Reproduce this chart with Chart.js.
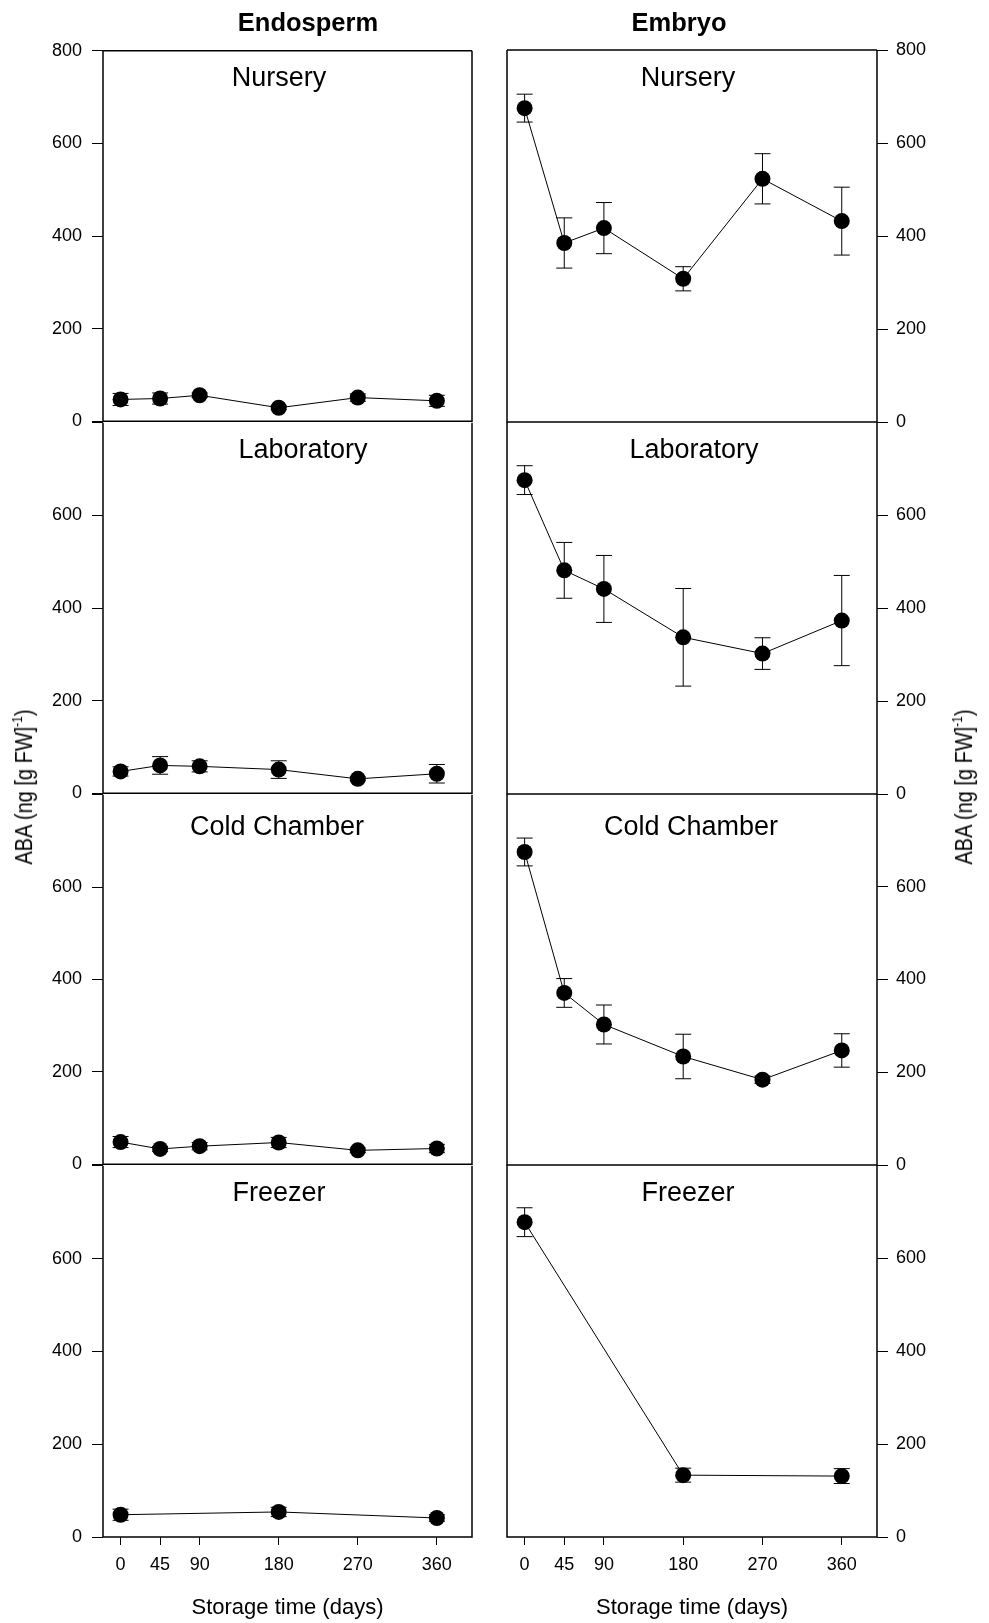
<!DOCTYPE html>
<html>
<head>
<meta charset="utf-8">
<title>ABA content during storage</title>
<script src="https://cdn.jsdelivr.net/npm/chart.js@4.4.1/dist/chart.umd.min.js"></script>
<style>
  body { margin: 0; background: #fff; font-family: 'Liberation Sans', Arial, sans-serif; }
  #fig { position: relative; width: 989px; height: 1623px; overflow: hidden; background: #fff; }
  #fig canvas { position: absolute; }
  .lbl { position: absolute; white-space: nowrap; line-height: 1; color: #000; transform: translate(-50%, -50%); }
  .col-title { font-size: 25.5px; font-weight: bold; }
  .panel-title { font-size: 27px; }
  .y-title { font-size: 20px; transform: translate(-50%, -50%) rotate(-90deg) scaleY(1.15); }
  .y-title sup { font-size: 0.6em; vertical-align: 0.75em; line-height: 0; }
</style>
</head>
<body>
<div id="fig"></div>
<script>
// ---- data ----
const storageDays = [0, 45, 90, 180, 270, 360];
const freezerDays = [0, 180, 360];
const xTickValues = [0, 45, 90, 180, 270, 360];
const yTickValues = [0, 200, 400, 600, 800];

// Endosperm (ng ABA per g FW)
const endoNursery = [47, 49, 56, 29, 51, 44];
const endoNurseryErr = [13, 12, 5, 4, 8, 12];
const endoLab = [47, 60, 58, 51, 31, 42];
const endoLabErr = [10, 19, 12, 19, 4, 20];
const endoCold = [48, 33, 39, 47, 30, 34];
const endoColdErr = [12, 5, 8, 11, 5, 9];
const endoFreezer = [48, 54, 41];
const endoFreezerErr = [12, 10, 7];

// Embryo
const embNursery = [675, 385, 417, 308, 523, 432];
const embNurseryErr = [30, 54, 55, 26, 54, 73];
const embLab = [675, 481, 441, 337, 302, 373];
const embLabErr = [31, 60, 72, 105, 34, 97];
const embCold = [675, 371, 303, 234, 184, 247];
const embColdErr = [30, 31, 42, 48, 8, 36];
const embFreezer = [677, 133, 131];
const embFreezerErr = [31, 15, 16];

const columnTitles = ['Endosperm', 'Embryo'];
const panelTitles = ['Nursery', 'Laboratory', 'Cold Chamber', 'Freezer'];
const xTitle = 'Storage time (days)';

// ---- layout ----
const FONT = "'Liberation Sans', Arial, sans-serif";
const rowEdges = [50, 422, 794, 1165, 1537];
const FIG_H = 1623;
const CAP = 8; // half width of error bar caps

const columns = [
  { left: 0, width: 490, padLeft: 0, padRight: 18, axisWidth: 103, side: 'left', tickPad: 10,
    titleX: 308, yTitleX: 24,
    panelTitleX: [279, 303, 277, 279] },
  { left: 490, width: 499, padLeft: 17, padRight: 0, axisWidth: 112, side: 'right', tickPad: 8,
    titleX: 679, yTitleX: 964,
    panelTitleX: [688, 694, 691, 688] }
];
const panelTitleY = [77, 449, 826, 1192];

const panels = [
  [
    { days: storageDays, values: endoNursery, errors: endoNurseryErr },
    { days: storageDays, values: endoLab, errors: endoLabErr },
    { days: storageDays, values: endoCold, errors: endoColdErr },
    { days: freezerDays, values: endoFreezer, errors: endoFreezerErr }
  ],
  [
    { days: storageDays, values: embNursery, errors: embNurseryErr },
    { days: storageDays, values: embLab, errors: embLabErr },
    { days: storageDays, values: embCold, errors: embColdErr },
    { days: freezerDays, values: embFreezer, errors: embFreezerErr }
  ]
];

Chart.defaults.font.family = FONT;
Chart.defaults.color = '#000';

const fig = document.getElementById('fig');

// error bars drawn under the markers, using the chart scales
const errorBars = {
  id: 'errorBars',
  beforeDatasetsDraw(chart) {
    const { ctx, scales } = chart;
    const ds = chart.data.datasets[0];
    ctx.save();
    ctx.strokeStyle = '#000';
    ctx.lineWidth = 1;
    ds.data.forEach((pt, i) => {
      const e = ds.errors[i];
      const px = scales.x.getPixelForValue(pt.x);
      const top = scales.y.getPixelForValue(pt.y + e);
      const bot = scales.y.getPixelForValue(pt.y - e);
      ctx.beginPath();
      ctx.moveTo(px, top); ctx.lineTo(px, bot);
      ctx.moveTo(px - CAP, top); ctx.lineTo(px + CAP, top);
      ctx.moveTo(px - CAP, bot); ctx.lineTo(px + CAP, bot);
      ctx.stroke();
    });
    ctx.restore();
  }
};

// box around the plot area; lower rows skip the top edge (shared with the row above)
const frame = {
  id: 'frame',
  afterDraw(chart, args, opts) {
    const { ctx, chartArea: a } = chart;
    ctx.save();
    ctx.strokeStyle = '#000';
    ctx.lineWidth = 1.5;
    ctx.beginPath();
    if (opts.top) {
      ctx.moveTo(a.left, a.top); ctx.lineTo(a.right, a.top);
    }
    ctx.moveTo(a.right, a.top); ctx.lineTo(a.right, a.bottom);
    ctx.lineTo(a.left, a.bottom);
    ctx.lineTo(a.left, a.top);
    ctx.stroke();
    ctx.restore();
  }
};

function addLabel(html, cls, x, y) {
  const div = document.createElement('div');
  div.className = 'lbl ' + cls;
  div.innerHTML = html;
  div.style.left = x + 'px';
  div.style.top = y + 'px';
  fig.appendChild(div);
}

function makePanel(col, row) {
  const c = columns[col];
  const p = panels[col][row];
  const isBottom = row === panelTitles.length - 1;

  const top = rowEdges[row] - 20;
  const height = isBottom ? FIG_H - top : (rowEdges[row + 1] - rowEdges[row]) + 40;

  const canvas = document.createElement('canvas');
  canvas.width = c.width;
  canvas.height = height;
  canvas.style.left = c.left + 'px';
  canvas.style.top = top + 'px';
  canvas.style.width = c.width + 'px';
  canvas.style.height = height + 'px';
  fig.appendChild(canvas);

  const gridOpts = (len) => ({
    drawOnChartArea: false,
    drawTicks: true,
    tickLength: len,
    color: '#000',
    tickColor: '#000',
    lineWidth: 1
  });

  new Chart(canvas.getContext('2d'), {
    type: 'line',
    data: {
      datasets: [{
        data: p.days.map((d, i) => ({ x: d, y: p.values[i] })),
        errors: p.errors,
        borderColor: '#000',
        borderWidth: 1,
        backgroundColor: '#000',
        pointRadius: 8,
        pointHoverRadius: 8,
        pointBackgroundColor: '#000',
        pointBorderColor: '#000',
        pointBorderWidth: 0,
        tension: 0,
        fill: false
      }]
    },
    options: {
      responsive: false,
      animation: false,
      events: [],
      layout: {
        padding: { top: 20, bottom: isBottom ? 0 : 20, left: c.padLeft, right: c.padRight }
      },
      plugins: {
        legend: { display: false },
        tooltip: { enabled: false },
        frame: { top: row === 0 }
      },
      scales: {
        x: {
          type: 'linear',
          min: -20,
          max: 400,
          display: isBottom,
          afterBuildTicks: (s) => { s.ticks = xTickValues.map(v => ({ value: v })); },
          // only the bottom row carries the x axis
          afterFit: (s) => { s.height = isBottom ? 86 : 0; },
          grid: gridOpts(8),
          border: { display: false },
          ticks: {
            color: '#000',
            font: { size: 18 },
            padding: 9,
            maxRotation: 0,
            autoSkip: false
          },
          title: {
            display: true,
            text: xTitle,
            color: '#000',
            font: { size: 22 },
            padding: { top: 0, bottom: 2 }
          }
        },
        y: {
          type: 'linear',
          position: c.side,
          min: 0,
          max: 800,
          afterBuildTicks: (s) => { s.ticks = yTickValues.map(v => ({ value: v })); },
          afterFit: (s) => { s.width = c.axisWidth; },
          grid: gridOpts(11),
          border: { display: false },
          ticks: {
            color: '#000',
            font: { size: 18 },
            padding: c.tickPad,
            // top label only on the first row, lower rows share the 0 of the row above
            callback: (v) => (v === 800 && row > 0) ? '' : String(v)
          }
        }
      }
    },
    plugins: [errorBars, frame]
  });

  addLabel(panelTitles[row], 'panel-title', c.panelTitleX[row], panelTitleY[row]);
}

columns.forEach((c, col) => {
  for (let row = 0; row < panelTitles.length; row++) makePanel(col, row);
  addLabel(columnTitles[col], 'col-title', c.titleX, 22.5);
  addLabel('ABA (ng [g FW]<sup>-1</sup>)', 'y-title', c.yTitleX, 787);
});
</script>
</body>
</html>
